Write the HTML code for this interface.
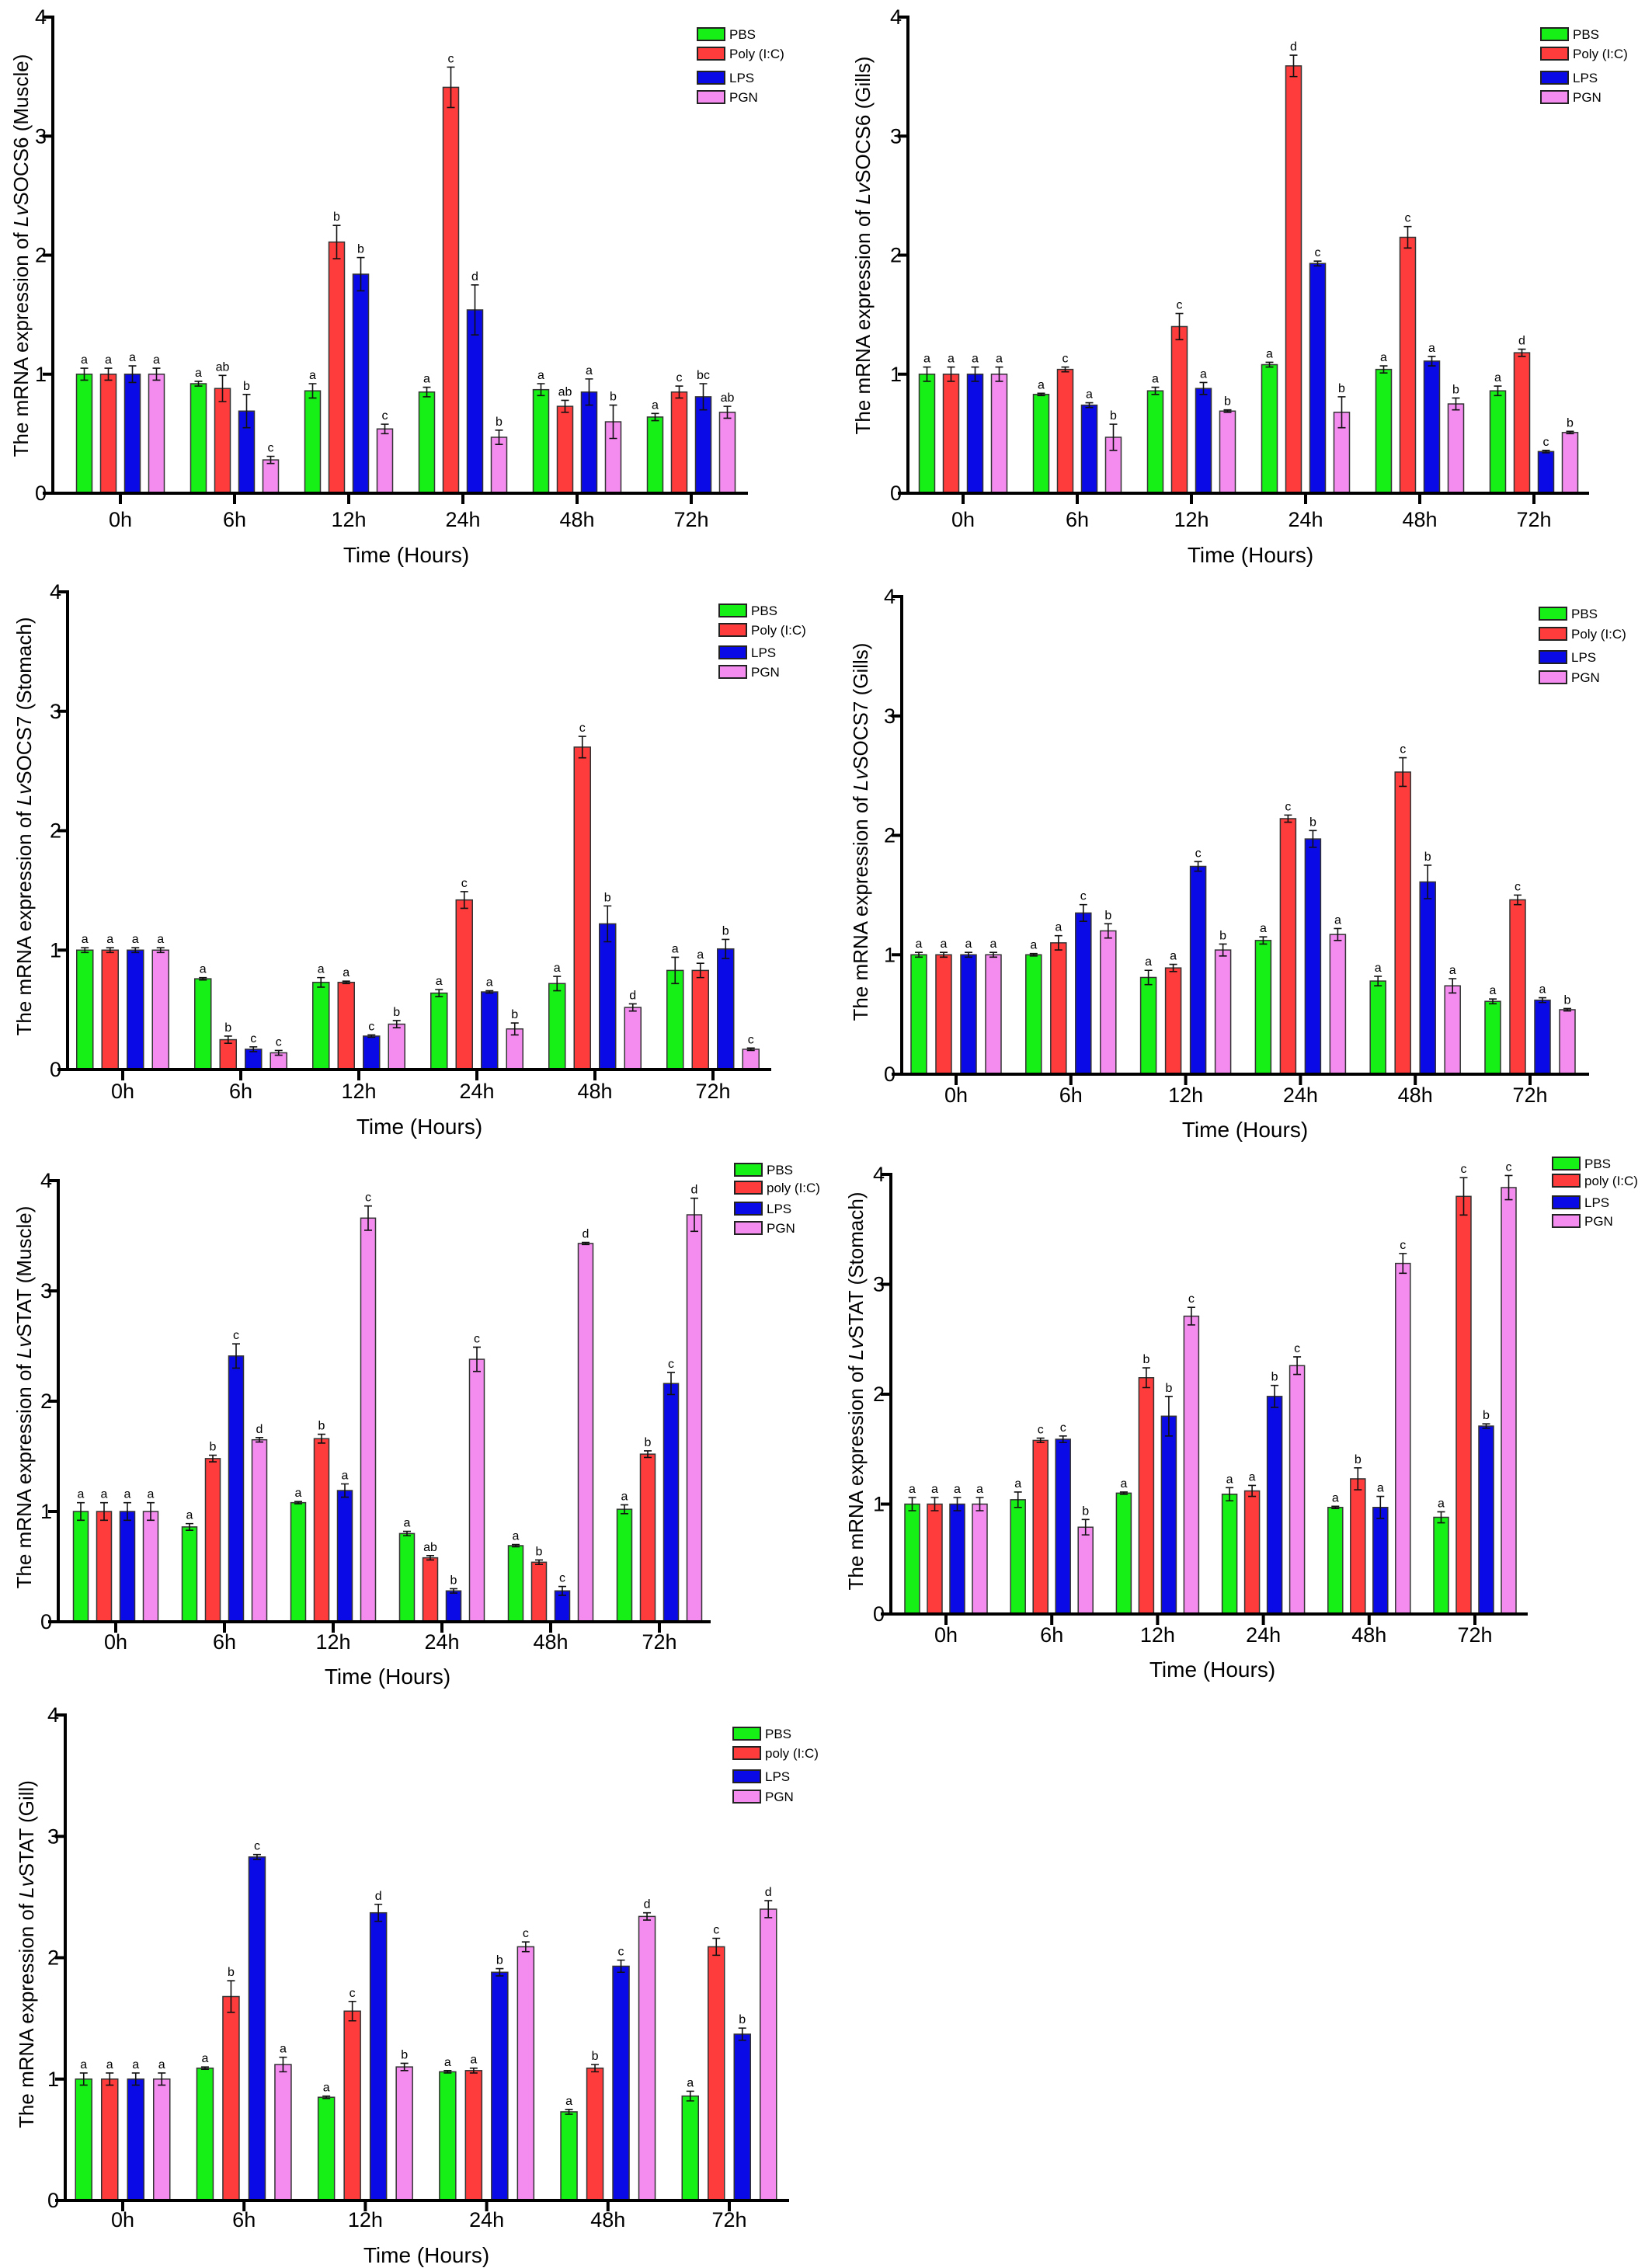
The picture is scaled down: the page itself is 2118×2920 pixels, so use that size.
<!DOCTYPE html>
<html><head><meta charset="utf-8"><style>
html,body{margin:0;padding:0;background:#fff;}
svg{display:block;}
text{font-family:"Liberation Sans",Arial,sans-serif;fill:#000;}
</style></head>
<body>
<svg id="fig" width="2118" height="2920" viewBox="0 0 2118 2920" xmlns="http://www.w3.org/2000/svg"></svg>
<script>
const categories = ["0h","6h","12h","24h","48h","72h"];
const seriesNames = ["PBS","Poly (I:C)","LPS","PGN"];
const seriesNamesLower = ["PBS","poly (I:C)","LPS","PGN"];
const colors = ["#16f016","#ff3c3c","#0a0ae6","#f48cf0"];
const yTicks = [0,1,2,3,4];

// Panel 1: LvSOCS6 Muscle
const p1Values = [[1,.92,.86,.85,.87,.64],[1,.88,2.11,3.41,.73,.85],[1,.69,1.84,1.54,.85,.81],[1,.28,.54,.47,.60,.68]];
const p1Errors = [[.05,.02,.06,.04,.05,.03],[.05,.11,.14,.17,.05,.05],[.07,.14,.14,.21,.11,.11],[.05,.03,.04,.06,.14,.05]];
const p1Letters = [["a","a","a","a","a","a"],["a","ab","b","c","ab","c"],["a","b","b","d","a","bc"],["a","c","c","b","b","ab"]];
// Panel 2: LvSOCS6 Gills
const p2Values = [[1,.83,.86,1.08,1.04,.86],[1,1.04,1.40,3.59,2.15,1.18],[1,.74,.88,1.93,1.11,.35],[1,.47,.69,.68,.75,.51]];
const p2Errors = [[.06,.01,.03,.02,.03,.04],[.06,.02,.11,.09,.09,.03],[.06,.02,.05,.02,.04,.01],[.06,.11,.01,.13,.05,.01]];
const p2Letters = [["a","a","a","a","a","a"],["a","c","c","d","c","d"],["a","a","a","c","a","c"],["a","b","b","b","b","b"]];
// Panel 3: LvSOCS7 Stomach
const p3Values = [[1,.76,.73,.64,.72,.83],[1,.25,.73,1.42,2.70,.83],[1,.17,.28,.65,1.22,1.01],[1,.14,.38,.34,.52,.17]];
const p3Errors = [[.02,.01,.04,.03,.06,.11],[.02,.03,.01,.07,.09,.06],[.02,.02,.01,.01,.15,.08],[.02,.02,.03,.05,.03,.01]];
const p3Letters = [["a","a","a","a","a","a"],["a","b","a","c","c","a"],["a","c","c","a","b","b"],["a","c","b","b","d","c"]];
// Panel 4: LvSOCS7 Gills
const p4Values = [[1,1.00,.81,1.12,.78,.61],[1,1.10,.89,2.14,2.53,1.46],[1,1.35,1.74,1.97,1.61,.62],[1,1.20,1.04,1.17,.74,.54]];
const p4Errors = [[.02,.01,.06,.03,.04,.02],[.02,.06,.03,.03,.12,.04],[.02,.07,.04,.07,.14,.02],[.02,.06,.05,.05,.06,.01]];
const p4Letters = [["a","a","a","a","a","a"],["a","a","a","c","c","c"],["a","c","c","b","b","a"],["a","b","b","a","a","b"]];
// Panel 5: LvSTAT Muscle
const p5Values = [[1,.86,1.08,.80,.69,1.02],[1,1.48,1.66,.58,.54,1.52],[1,2.41,1.19,.28,.28,2.16],[1,1.65,3.66,2.38,3.43,3.69]];
const p5Errors = [[.08,.03,.01,.02,.01,.04],[.08,.03,.04,.02,.02,.03],[.08,.11,.06,.02,.04,.10],[.08,.02,.11,.11,.01,.15]];
const p5Letters = [["a","a","a","a","a","a"],["a","b","b","ab","b","b"],["a","c","a","b","c","c"],["a","d","c","c","d","d"]];
// Panel 6: LvSTAT Stomach
const p6Values = [[1,1.04,1.10,1.09,.97,.88],[1,1.58,2.15,1.12,1.23,3.80],[1,1.59,1.80,1.98,.97,1.71],[1,.79,2.71,2.26,3.19,3.88]];
const p6Errors = [[.06,.07,.01,.06,.01,.05],[.06,.02,.09,.05,.10,.17],[.06,.03,.18,.10,.10,.02],[.06,.07,.08,.08,.09,.11]];
const p6Letters = [["a","a","a","a","a","a"],["a","c","b","a","b","c"],["a","c","b","b","a","b"],["a","b","c","c","c","c"]];
// Panel 7: LvSTAT Gill
const p7Values = [[1,1.09,.85,1.06,.73,.86],[1,1.68,1.56,1.07,1.09,2.09],[1,2.83,2.37,1.88,1.93,1.37],[1,1.12,1.10,2.09,2.34,2.40]];
const p7Errors = [[.05,.01,.01,.01,.02,.04],[.05,.13,.08,.02,.03,.07],[.05,.02,.07,.03,.05,.05],[.05,.06,.03,.04,.03,.07]];
const p7Letters = [["a","a","a","a","a","a"],["a","b","c","a","b","c"],["a","c","d","b","c","b"],["a","a","b","c","d","d"]];

const panels = [
 {id:"socs6-muscle",gene:"SOCS6 (Muscle)",vals:p1Values,errs:p1Errors,lets:p1Letters,names:seriesNames,
  ax:68,xe:963,y0:635,y4:22,g0:155,gs:147,off:31,bw:20,lgx:898,lgy:[44,69,100,125],ylx:27,yly:329,tx:523,ty:714,tly:669},
 {id:"socs6-gills",gene:"SOCS6 (Gills)",vals:p2Values,errs:p2Errors,lets:p2Letters,names:seriesNames,
  ax:1169,xe:2046,y0:635,y4:22,g0:1240,gs:147,off:31,bw:20,lgx:1984,lgy:[44,69,100,125],ylx:1111,yly:316,tx:1610,ty:714,tly:669},
 {id:"socs7-stomach",gene:"SOCS7 (Stomach)",vals:p3Values,errs:p3Errors,lets:p3Letters,names:seriesNames,
  ax:87,xe:993,y0:1377,y4:762,g0:158,gs:152,off:32.5,bw:21,lgx:926,lgy:[786,811,840,865],ylx:31,yly:1064,tx:540,ty:1450,tly:1405},
 {id:"socs7-gills",gene:"SOCS7 (Gills)",vals:p4Values,errs:p4Errors,lets:p4Letters,names:seriesNames,
  ax:1161,xe:2046,y0:1383,y4:768,g0:1231,gs:147.8,off:32,bw:20,lgx:1982,lgy:[790,816,846,872],ylx:1108,yly:1071,tx:1603,ty:1454,tly:1410},
 {id:"stat-muscle",gene:"STAT (Muscle)",vals:p5Values,errs:p5Errors,lets:p5Letters,names:seriesNamesLower,
  ax:75,xe:915,y0:2088,y4:1520,g0:149,gs:140,off:30,bw:19,lgx:946,lgy:[1506,1529,1556,1581],ylx:31,yly:1799,tx:499,ty:2158,tly:2114},
 {id:"stat-stomach",gene:"STAT (Stomach)",vals:p6Values,errs:p6Errors,lets:p6Letters,names:seriesNamesLower,
  ax:1147,xe:1967,y0:2078,y4:1512,g0:1218,gs:136.2,off:29,bw:19,lgx:1999,lgy:[1498,1520,1548,1572],ylx:1102,yly:1791,tx:1561,ty:2149,tly:2105},
 {id:"stat-gill",gene:"STAT (Gill)",vals:p7Values,errs:p7Errors,lets:p7Letters,names:seriesNamesLower,
  ax:84,xe:1016,y0:2833,y4:2208,g0:158,gs:156.2,off:33.5,bw:21,lgx:944,lgy:[2232,2257,2287,2313],ylx:34,yly:2516,tx:549,ty:2903,tly:2858}
];

const NS="http://www.w3.org/2000/svg";
const svg=document.getElementById("fig");
function mk(tag,attrs,parent){const e=document.createElementNS(NS,tag);for(const k in attrs)e.setAttribute(k,attrs[k]);(parent||svg).appendChild(e);return e;}

panels.forEach(p=>{
  const g=mk("g",{});
  
  
  const yS=v=>p.y0-(p.y0-p.y4)*v/4;
  const xS=i=>p.g0+p.gs*i;
  const offs=[-1.5,-0.5,0.5,1.5];
  for(let s=0;s<4;s++){
    for(let c=0;c<categories.length;c++){
      const v=p.vals[s][c],e=p.errs[s][c];
      const cx=xS(c)+offs[s]*p.off;
      const r=mk("rect",{x:cx-p.bw/2,y:yS(v),width:p.bw,height:p.y0-yS(v),fill:colors[s],stroke:"#333",'stroke-width':1.5},g);
      
      
      const eb=mk("path",{d:`M${cx},${yS(v+e)}V${yS(v-e)}M${cx-5},${yS(v+e)}H${cx+5}M${cx-5},${yS(v-e)}H${cx+5}`,stroke:"#111",'stroke-width':1.6,fill:"none"},g);
      
      
      const t=mk("text",{x:cx,y:yS(v+e)-6,'text-anchor':"middle",'font-size':16},g);
      t.textContent=p.lets[s][c];
      
      
    }
  }
  const ya=mk("line",{x1:p.ax,y1:p.y4-2,x2:p.ax,y2:p.y0+2,stroke:"#000",'stroke-width':4},g);
  
  
  const xa=mk("line",{x1:p.ax-2,y1:p.y0,x2:p.xe,y2:p.y0,stroke:"#000",'stroke-width':4},g);
  
  
  yTicks.forEach(v=>{
    mk("line",{x1:p.ax-13,y1:yS(v),x2:p.ax,y2:yS(v),stroke:"#000",'stroke-width':4},g);
    const t=mk("text",{x:p.ax-8,y:yS(v)+9,'text-anchor':"end",'font-size':27},g);
    t.textContent=v;
    
    
  });
  categories.forEach((c,i)=>{
    mk("line",{x1:xS(i),y1:p.y0,x2:xS(i),y2:p.y0+14,stroke:"#000",'stroke-width':4},g);
    const t=mk("text",{x:xS(i),y:p.tly+9,'text-anchor':"middle",'font-size':27},g);
    t.textContent=c;
    
    
  });
  const xt=mk("text",{x:p.tx,y:p.ty+10,'text-anchor':"middle",'font-size':28},g);
  xt.textContent="Time (Hours)";
  
  
  const yt=mk("text",{x:0,y:0,'text-anchor':"middle",'font-size':26,transform:`translate(${p.ylx+9},${p.yly}) rotate(-90)`},g);
  
  
  const t1=mk("tspan",{},yt);t1.textContent="The mRNA expression of ";
  const t2=mk("tspan",{'font-style':"italic"},yt);t2.textContent="Lv";
  const t3=mk("tspan",{},yt);t3.textContent=p.gene;
  for(let s=0;s<4;s++){
    const ly=p.lgy[s];
    const r=mk("rect",{x:p.lgx,y:ly-8,width:35,height:16,fill:colors[s],stroke:"#222",'stroke-width':2},g);
    
    
    const t=mk("text",{x:p.lgx+41,y:ly+6,'font-size':17},g);
    t.textContent=p.names[s];
    
    
  }
});
</script>
</body></html>
